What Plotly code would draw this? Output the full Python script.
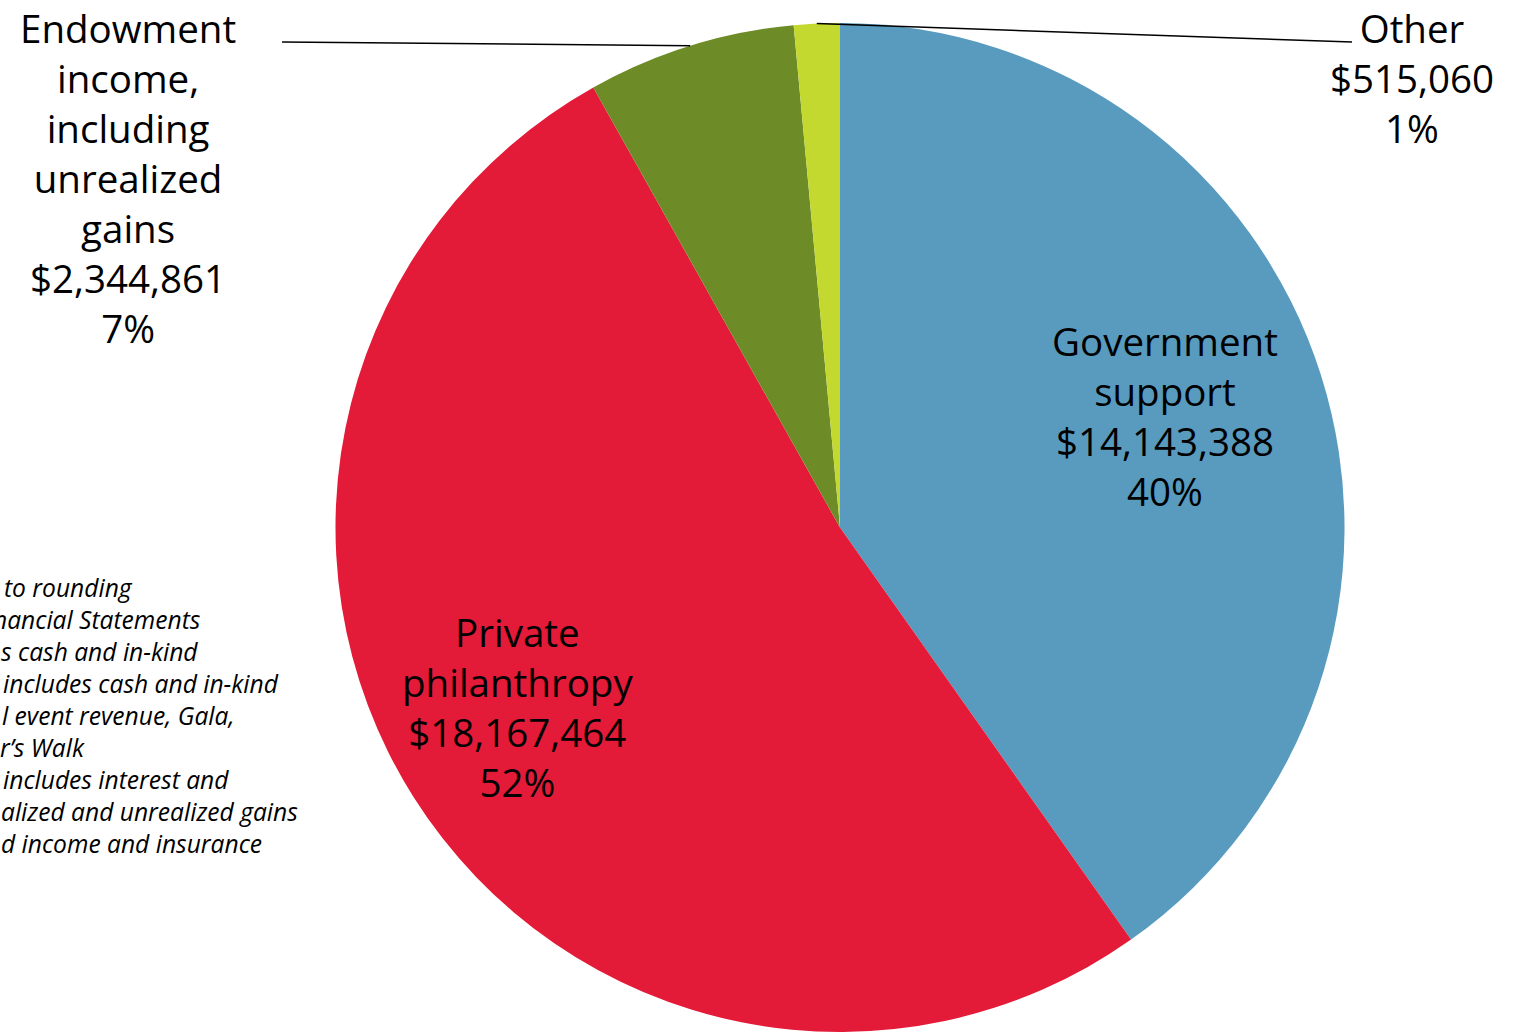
import math
import plotly.graph_objects as go

# ---- data ----
categories = ["Government support", "Private philanthropy",
              "Endowment income, including unrealized gains", "Other"]
label_lines = [["Government", "support"], ["Private", "philanthropy"],
               ["Endowment", "income,", "including", "unrealized", "gains"], ["Other"]]
values = [14143388, 18167464, 2344861, 515060]
colors = ["#589BBF", "#E31A38", "#6D8B26", "#C3D92F"]
footnote_lines = ["to rounding", "nancial Statements", "s cash and in-kind",
                  "includes cash and in-kind", "l event revenue, Gala,", "r\u2019s Walk",
                  "includes interest and", "alized and unrealized gains",
                  "d income and insurance"]

# ---- layout geometry (pixels) ----
W, H = 1518, 1033
MT, MB, ML, MR = 23, 1, 0, 0
PW, PH = W - ML - MR, H - MT - MB
CX = 840.0
R = PH / 2.0
CY = MT + R


def px(x):
    return (x - ML) / PW


def py(y):
    return 1 - (y - MT) / PH


total = sum(values)
pcts = [v / total for v in values]

half = (R) / PW
fig = go.Figure(go.Pie(
    labels=categories, values=values, sort=False, direction="clockwise",
    rotation=0, marker=dict(colors=colors, line=dict(width=0)),
    textinfo="none", hoverinfo="skip", showlegend=False,
    domain=dict(x=[px(CX) - half, px(CX) + half], y=[0, 1]),
))

FONT = "Open Sans"
LBL_SIZE = 38.5


def label_text(i):
    return "<br>".join(label_lines[i] + ["${:,}".format(values[i]), "{:.0f}%".format(pcts[i] * 100)])


label_pos = [(1165, 416), (517, 707), (128, 178), (1412, 78)]
for i, (lx, ly) in enumerate(label_pos):
    fig.add_annotation(x=px(lx), y=py(ly), xref="paper", yref="paper",
                       text=label_text(i), showarrow=False, align="center",
                       xanchor="center", yanchor="middle",
                       font=dict(family=FONT, size=LBL_SIZE, color="black"))

# leader lines from slice mid-angle at the rim to the outside labels
cum = 0.0
mids = []
for p in pcts:
    mids.append((cum + p / 2) * 2 * math.pi)
    cum += p
leader_ends = {2: (282, 42), 3: (1352, 42)}
for i, (ex, ey) in leader_ends.items():
    sx = CX + R * math.sin(mids[i])
    sy = CY - R * math.cos(mids[i])
    fig.add_shape(type="line", xref="paper", yref="paper",
                  x0=px(sx), y0=py(sy), x1=px(ex), y1=py(ey),
                  line=dict(color="black", width=1.5))

# footnote (cut at the left edge)
foot_x = [2, -9, -1, 1, 0, -2, 1, -1, -1]
for k, line in enumerate(footnote_lines):
    fig.add_annotation(x=px(foot_x[k]), y=py(587 + 32 * k), xref="paper", yref="paper",
                       text=line, showarrow=False, xanchor="left", yanchor="middle",
                       font=dict(family=FONT, size=24.6, color="black", style="italic"))

fig.update_layout(width=W, height=H, margin=dict(l=ML, r=MR, t=MT, b=MB),
                  paper_bgcolor="white", plot_bgcolor="white")
fig.write_html("out.html", config={"displayModeBar": False},
               post_script="document.body.style.margin='0';document.body.style.overflow='hidden';")
